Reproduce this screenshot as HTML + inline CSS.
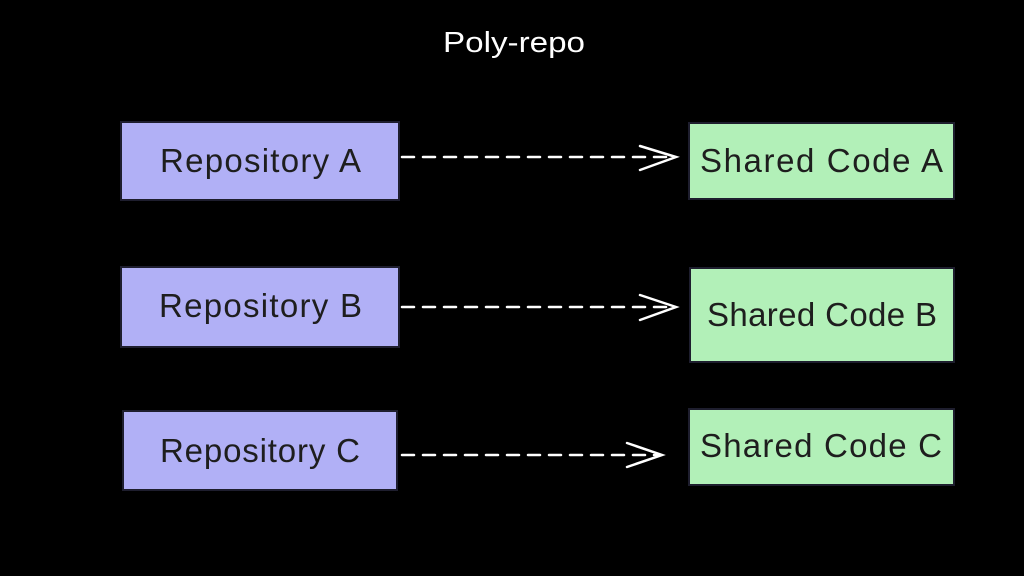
<!DOCTYPE html>
<html><head><style>
html,body{margin:0;padding:0;background:#000;}
svg{display:block}
text{font-family:"Comic Sans MS","Liberation Sans",sans-serif;}
</style></head><body>
<svg width="1024" height="576" viewBox="0 0 1024 576" xmlns="http://www.w3.org/2000/svg">
<rect width="1024" height="576" fill="#000"/>
<text x="443" y="52" fill="#fff" font-size="29" textLength="142" lengthAdjust="spacingAndGlyphs">Poly-repo</text>
<g stroke="#1e1e2e" stroke-width="2">
<rect x="121" y="122" width="278" height="78" fill="#b1b0f6"/>
<rect x="121" y="267" width="278" height="80" fill="#b1b0f6"/>
<rect x="123" y="411" width="274" height="79" fill="#b1b0f6"/>
<rect x="689" y="123" width="265" height="76" fill="#b2f0b8"/>
<rect x="690" y="268" width="264" height="94" fill="#b2f0b8"/>
<rect x="689" y="409" width="265" height="76" fill="#b2f0b8"/>
</g>
<g fill="#1e1e1e" font-size="33" lengthAdjust="spacingAndGlyphs">
<text x="160" y="172" textLength="201">Repository A</text>
<text x="159" y="317" textLength="203">Repository B</text>
<text x="160" y="462" textLength="200">Repository C</text>
<text x="700" y="172" textLength="243">Shared Code A</text>
<text x="707" y="326" textLength="230">Shared Code B</text>
<text x="700" y="457" textLength="242">Shared Code C</text>
</g>
<g stroke="#fff" stroke-width="2.5" fill="none" stroke-linecap="round">
<line x1="402" y1="157" x2="674" y2="157" stroke-dasharray="12 9"/>
<polyline points="640,146 676,157 640,170"/>
<line x1="402" y1="307" x2="674" y2="307" stroke-dasharray="12 9"/>
<polyline points="640,295 676,307 640,320"/>
<line x1="402" y1="455" x2="660" y2="455" stroke-dasharray="12 9"/>
<polyline points="627,443 662,455 627,467"/>
</g>
</svg>
</body></html>
